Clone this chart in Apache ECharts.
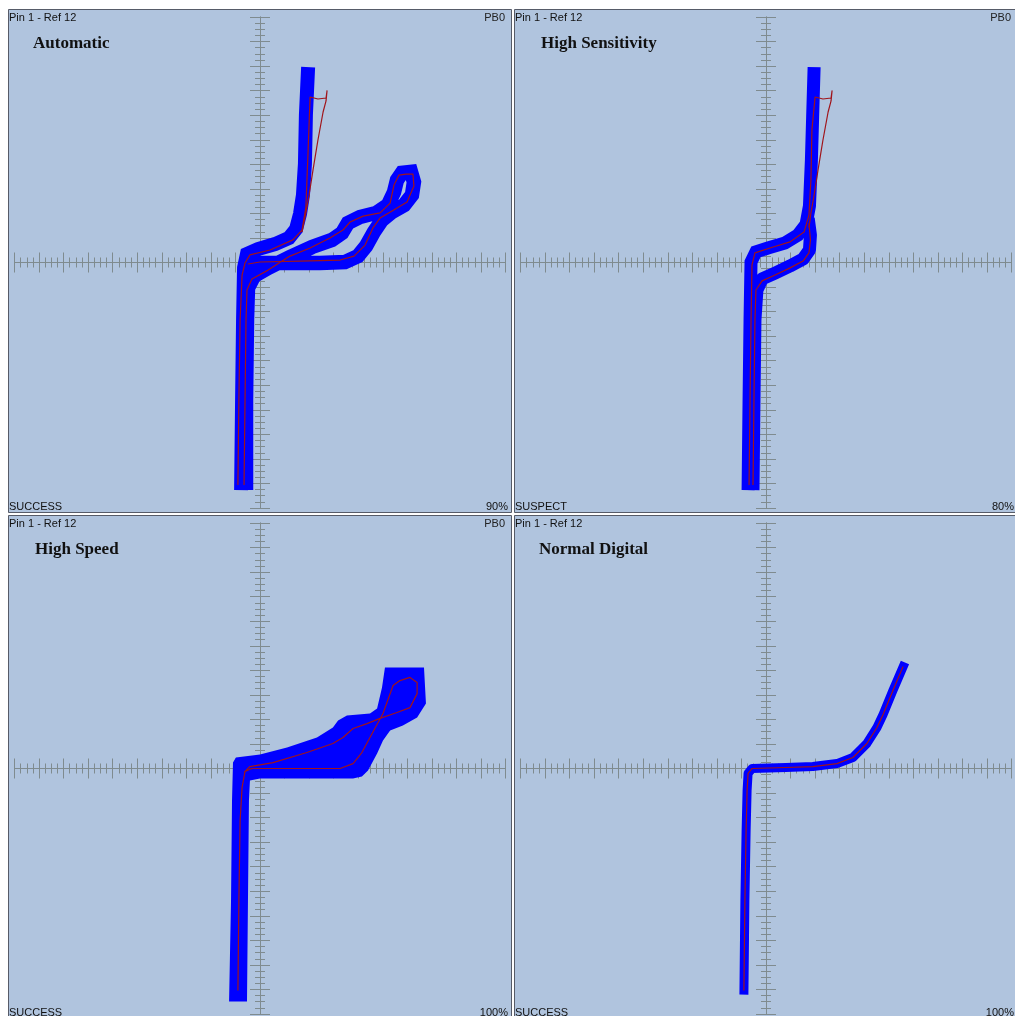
<!DOCTYPE html>
<html>
<head>
<meta charset="utf-8">
<script src="https://cdn.jsdelivr.net/npm/echarts@6/dist/echarts.min.js"></script>
<style>
  html, body { margin: 0; padding: 0; background: #ffffff; }
  #chart { width: 1015px; height: 1016px; }
</style>
</head>
<body>
<div id="chart"></div>
<script>
// ---- Panel text ----
const panelTitles = ['Automatic', 'High Sensitivity', 'High Speed', 'Normal Digital'];
const pinLabel = 'Pin 1 - Ref 12';
const partLabels = ['PB0', 'PB0', 'PB0', ''];
const statusLabels = ['SUCCESS', 'SUSPECT', 'SUCCESS', 'SUCCESS'];
const scoreLabels = ['90%', '80%', '100%', '100%'];

// ---- Signature traces, in screen divisions (x: voltage, y: current) ----
// Automatic: reference envelope (blue) and live trace (red)
const autoBlueJ = [[-0.77,-9.27],[-0.73,-5.60],[-0.69,-2.34],[-0.65,-0.22],[-0.53,0.35],[-0.08,0.55],[0.61,0.75],[1.18,1.00],[1.47,1.36],[1.63,1.98],[1.75,2.75],[1.83,4.01],[1.87,6.01],[1.96,7.96]];
const autoBlueLoop = [[-0.57,-9.27],[-0.57,-5.60],[-0.53,-2.34],[-0.49,-1.04],[-0.24,-0.55],[0.33,-0.22],[1.22,0.22],[2.12,0.63],[2.93,0.92],[3.34,1.20],[3.58,1.61],[4.07,1.85],[4.73,2.02],[5.21,2.34],[5.46,2.87],[5.58,3.36],[5.78,3.65],[6.15,3.69],[6.27,3.28],[6.19,2.75],[5.87,2.34],[5.38,2.06],[4.97,1.73],[4.64,1.24],[4.32,0.67],[3.99,0.26],[3.46,0.02],[2.44,-0.02],[1.22,-0.02],[0.20,-0.02],[-0.41,-0.02],[-0.57,-0.14]];
const autoRedJ = [[-0.90,-9.06],[-0.86,-5.60],[-0.81,-2.34],[-0.73,-0.51],[-0.61,-0.02],[-0.41,0.31],[0.41,0.51],[1.34,0.92],[1.71,1.32],[1.87,2.26],[1.96,4.58],[2.04,6.74],[2.36,6.66],[2.69,6.70],[2.73,6.99],[2.69,6.58],[2.57,6.13],[2.36,4.99],[2.16,3.77],[2.00,2.75],[1.87,2.02],[1.71,1.24]];
const autoRedLoop = [[-0.65,-9.06],[-0.61,-5.60],[-0.57,-2.34],[-0.53,-1.12],[-0.33,-0.67],[0.33,-0.31],[1.22,0.26],[2.04,0.59],[2.85,1.00],[3.38,1.32],[3.67,1.65],[4.20,1.89],[4.89,2.02],[5.30,2.42],[5.46,3.16],[5.66,3.56],[5.95,3.60],[6.23,3.60],[6.27,3.12],[5.99,2.46],[5.38,2.10],[4.89,1.81],[4.60,1.41],[4.28,0.71],[3.83,0.26],[3.26,0.10],[1.63,0.06],[0.00,0.02],[-0.49,-0.06]];

// High Sensitivity
const sensBlueJ = [[-0.73,-9.27],[-0.69,-5.60],[-0.65,-2.34],[-0.61,0.02],[-0.41,0.43],[0.08,0.59],[0.77,0.79],[1.30,1.12],[1.63,1.55],[1.77,2.30],[1.85,4.18],[1.90,5.93],[1.96,7.96]];
const sensBlueHook = [[-0.53,-9.27],[-0.49,-5.60],[-0.45,-2.34],[-0.37,-1.12],[-0.16,-0.67],[0.37,-0.43],[0.98,-0.14],[1.51,0.14],[1.77,0.51],[1.81,1.12],[1.72,1.80]];
const sensRedJ = [[-0.69,-9.06],[-0.65,-5.60],[-0.61,-2.34],[-0.57,-0.10],[-0.45,0.39],[0.16,0.59],[0.98,0.84],[1.55,1.24],[1.75,1.93],[1.83,3.36],[1.87,5.40],[2.00,6.74],[2.32,6.66],[2.65,6.70],[2.69,6.99],[2.65,6.58],[2.53,6.13],[2.32,4.99],[2.12,3.77],[1.96,2.75],[1.83,2.02],[1.75,1.41]];
const sensRedHook = [[-0.53,-9.06],[-0.49,-5.60],[-0.45,-2.34],[-0.41,-1.12],[-0.16,-0.75],[0.37,-0.51],[0.98,-0.22],[1.51,0.06],[1.75,0.39],[1.81,0.92],[1.75,1.60]];

// High Speed: filled reference envelope outline and live trace
const speedBlueOutline = [[-1.26,-9.49],[-1.18,-5.38],[-1.14,-1.30],[-1.10,0.24],[-0.98,0.45],[0.00,0.57],[1.10,0.86],[2.32,1.26],[2.97,1.67],[3.18,1.96],[3.54,2.16],[4.48,2.24],[4.77,2.44],[4.97,3.30],[5.09,4.11],[6.68,4.11],[6.76,2.65],[6.40,2.08],[5.82,1.75],[5.30,1.55],[5.01,1.14],[4.77,0.61],[4.40,-0.08],[4.15,-0.33],[3.79,-0.41],[0.00,-0.41],[-0.41,-0.49],[-0.45,-1.30],[-0.49,-5.38],[-0.53,-9.49]];
const speedRed = [[-0.90,-9.04],[-0.86,-5.38],[-0.81,-2.12],[-0.73,-0.77],[-0.61,-0.12],[-0.33,0.00],[1.63,0.00],[3.26,0.00],[3.79,0.20],[4.15,0.65],[4.48,1.26],[5.01,2.24],[5.42,3.38],[5.70,3.58],[6.11,3.71],[6.40,3.50],[6.40,3.05],[6.11,2.48],[5.58,2.28],[4.89,2.04],[4.36,1.83],[3.79,1.63],[3.38,1.26],[2.97,1.02],[1.91,0.65],[0.53,0.24],[-0.41,0.08],[-0.65,-0.16]];

// Normal Digital
const digitalBlue = [[-0.90,-9.21],[-0.86,-5.38],[-0.81,-2.53],[-0.77,-0.90],[-0.73,-0.20],[-0.57,0.00],[0.81,0.04],[1.91,0.08],[2.89,0.20],[3.54,0.45],[4.11,1.02],[4.52,1.67],[4.77,2.20],[5.17,3.18],[5.66,4.32]];
const digitalRed = [[-0.90,-9.04],[-0.86,-5.38],[-0.81,-2.53],[-0.77,-0.90],[-0.73,-0.20],[-0.57,0.00],[0.81,0.04],[1.91,0.08],[2.89,0.20],[3.54,0.45],[4.11,1.02],[4.52,1.67],[4.77,2.20],[5.17,3.18],[5.58,4.15]];

// ---- Styling / layout ----
const BG = '#b0c4de';
const BORDER = '#565b68';
const AXIS = '#7f8b8f';
const BLUE = '#0000ff';
const RED = '#a0141a';
const PANELS = [{ x: 8, y: 9 }, { x: 514, y: 9 }, { x: 8, y: 515 }, { x: 514, y: 515 }];
const TITLE_DX = [25, 27, 27, 25];
const HALF = 245.5; // half of the ±10 division plot square

const grids = [], xAxes = [], yAxes = [], graphics = [];

PANELS.forEach((p, g) => {
  const cx = p.x + 252, cy = p.y + 253.5;
  grids.push({ left: cx - HALF, top: cy - HALF, width: 2 * HALF, height: 2 * HALF, show: false, containLabel: false });

  const common = {
    gridIndex: g, type: 'value', min: -10, max: 10, interval: 1,
    axisLine: { show: true, onZero: true, lineStyle: { color: AXIS, width: 1 } },
    axisTick: { show: true, length: 10, lineStyle: { color: AXIS, width: 1 } },
    minorTick: { show: true, splitNumber: 4, length: 5, lineStyle: { color: AXIS, width: 1 } },
    axisLabel: { show: false }, splitLine: { show: false }, minorSplitLine: { show: false }
  };
  // two coincident axes per direction so the ticks cross the zero line
  xAxes.push(Object.assign({}, common, { position: 'bottom' }));
  xAxes.push(Object.assign({}, common, { position: 'top' }));
  yAxes.push(Object.assign({}, common, { position: 'left' }));
  yAxes.push(Object.assign({}, common, { position: 'right' }));

  graphics.push({
    type: 'rect', z: -1, silent: true,
    shape: { x: p.x + 0.5, y: p.y + 0.5, width: 503, height: 503 },
    style: { fill: BG, stroke: BORDER, lineWidth: 1 }
  });
  const small = '11px "Liberation Sans", Arial, sans-serif';
  graphics.push({ type: 'text', z: 50, silent: true, style: { text: pinLabel, x: p.x + 1, y: p.y + 9, font: small, fill: '#111', align: 'left', verticalAlign: 'middle' } });
  if (partLabels[g]) {
    graphics.push({ type: 'text', z: 50, silent: true, style: { text: partLabels[g], x: p.x + 497, y: p.y + 9, font: small, fill: '#222', align: 'right', verticalAlign: 'middle' } });
  }
  graphics.push({ type: 'text', z: 50, silent: true, style: { text: statusLabels[g], x: p.x + 1, y: p.y + 498, font: small, fill: '#111', align: 'left', verticalAlign: 'middle' } });
  graphics.push({ type: 'text', z: 50, silent: true, style: { text: scoreLabels[g], x: p.x + 500, y: p.y + 498, font: small, fill: '#111', align: 'right', verticalAlign: 'middle' } });
  graphics.push({ type: 'text', z: 50, silent: true, style: { text: panelTitles[g], x: p.x + TITLE_DX[g], y: p.y + 35, font: 'bold 17px "Liberation Serif", "Times New Roman", serif', fill: '#111', align: 'left', verticalAlign: 'middle' } });
});

function trace(g, data, color, width, z, join) {
  return {
    type: 'line', xAxisIndex: 2 * g, yAxisIndex: 2 * g, data: data,
    symbol: 'none', showSymbol: false, silent: true, clip: false, z: z,
    lineStyle: { color: color, width: width, cap: 'butt', join: join || 'round', miterLimit: 3 }
  };
}

const series = [
  trace(0, autoBlueJ, BLUE, 14, 2, 'miter'),
  trace(0, autoBlueLoop, BLUE, 14.5, 2, 'miter'),
  trace(0, autoRedJ, RED, 1.2, 3),
  trace(0, autoRedLoop, RED, 1.2, 3),

  trace(1, sensBlueJ, BLUE, 13, 2, 'miter'),
  trace(1, sensBlueHook, BLUE, 13, 2, 'round'),
  trace(1, sensRedJ, RED, 1.2, 3),
  trace(1, sensRedHook, RED, 1.2, 3),

  {
    type: 'custom', coordinateSystem: 'cartesian2d', xAxisIndex: 4, yAxisIndex: 4,
    data: [[0, 0]], silent: true, clip: false, z: 2,
    renderItem: function (params, api) {
      return { type: 'polygon', shape: { points: speedBlueOutline.map(function (pt) { return api.coord(pt); }) }, style: { fill: BLUE } };
    }
  },
  trace(2, speedRed, RED, 1.2, 3),

  trace(3, digitalBlue, BLUE, 9, 2),
  trace(3, digitalRed, RED, 1.2, 3)
];

const chart = echarts.init(document.getElementById('chart'), null, { renderer: 'canvas' });
chart.setOption({
  animation: false,
  backgroundColor: '#ffffff',
  grid: grids,
  xAxis: xAxes,
  yAxis: yAxes,
  graphic: { elements: graphics },
  series: series
});
</script>
</body>
</html>
